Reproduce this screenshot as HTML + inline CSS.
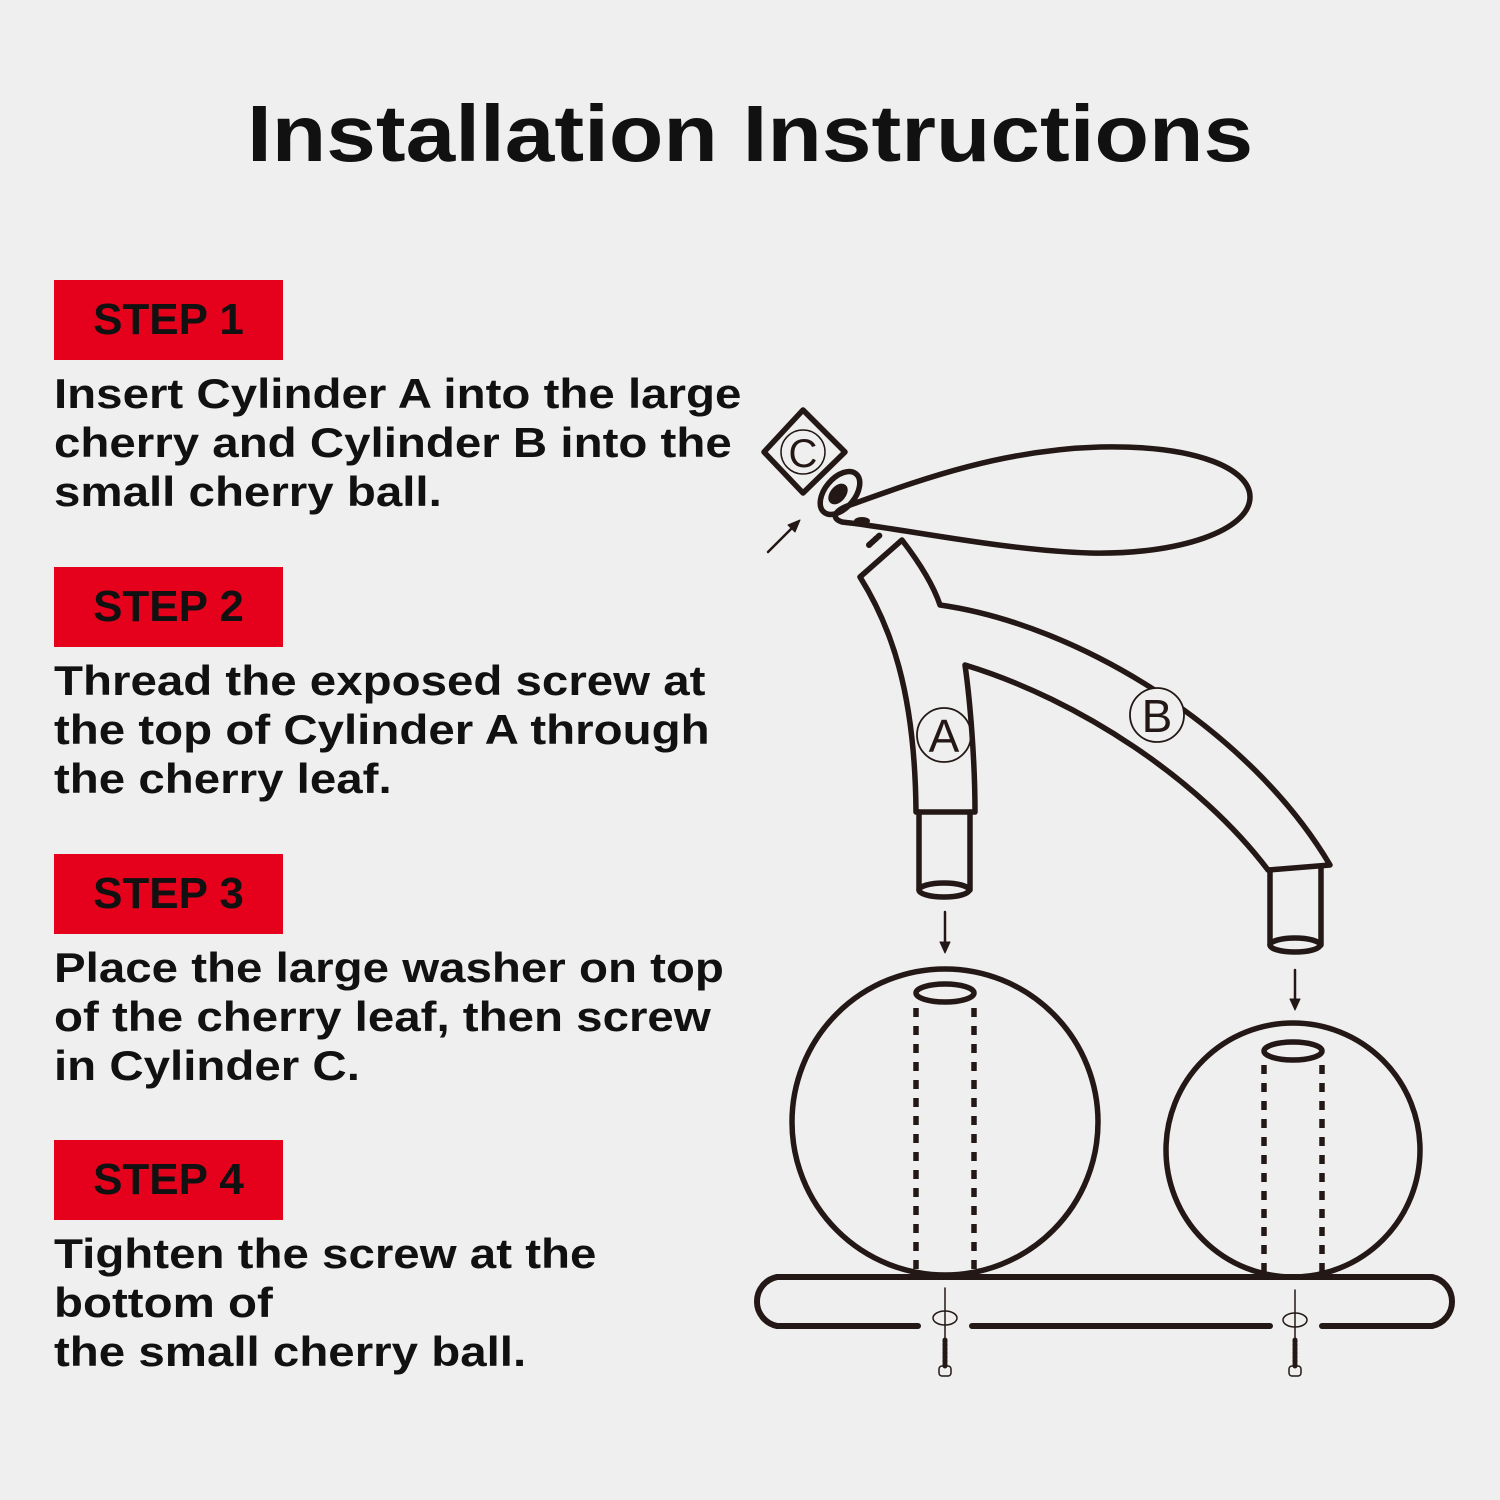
<!DOCTYPE html>
<html><head><meta charset="utf-8"><style>
html,body{margin:0;padding:0;background:#efefef;}
body{width:1500px;height:1500px;position:relative;overflow:hidden;font-family:"Liberation Sans",sans-serif;}
h1{position:absolute;left:247px;top:88px;margin:0;font-size:80px;font-weight:bold;color:#111;white-space:nowrap;transform:scaleX(1.115);transform-origin:0 0;}
.box{position:absolute;left:54px;width:229px;height:80px;background:#e5001c;color:#111;font-weight:bold;font-size:44px;line-height:80px;text-align:center;}
.t{position:absolute;left:54px;font-weight:bold;font-size:42px;line-height:49px;color:#111;white-space:nowrap;transform:scaleX(1.13);transform-origin:0 0;}
svg{position:absolute;left:0;top:0;}
</style></head><body>
<h1>Installation Instructions</h1>
<div class="box" style="top:280px">STEP 1</div>
<div class="t" style="top:369px">Insert Cylinder A into the large<br>cherry and Cylinder B into the<br>small cherry ball.</div>
<div class="box" style="top:567px">STEP 2</div>
<div class="t" style="top:656px">Thread the exposed screw at<br>the top of Cylinder A through<br>the cherry leaf.</div>
<div class="box" style="top:854px">STEP 3</div>
<div class="t" style="top:943px">Place the large washer on top<br>of the cherry leaf, then screw<br>in Cylinder C.</div>
<div class="box" style="top:1140px">STEP 4</div>
<div class="t" style="top:1229px">Tighten the screw at the<br>bottom of<br>the small cherry ball.</div>
<svg width="1500" height="1500" viewBox="0 0 1500 1500" fill="none" stroke="#231815" stroke-width="5.5" stroke-linecap="round" stroke-linejoin="round">
<path d="M842,522 C830,518 835,510 850,505 C920,480 1000,450 1100,447 C1200,445 1250,470 1250,497 C1250,530 1180,555 1090,553 C1000,550 900,528 842,522 Z"/>
<ellipse cx="840" cy="493" rx="15" ry="25" transform="rotate(40 840 493)"/>
<ellipse cx="838" cy="494" rx="5" ry="9" transform="rotate(40 838 494)" fill="#231815"/>
<ellipse cx="862" cy="521" rx="8" ry="4" fill="#231815" stroke="none"/>
<path d="M803,410 L845,452 L803,493 L764,452 Z"/>
<circle cx="803" cy="452" r="22" stroke-width="1.5"/>
<text x="803" y="467" font-family="Liberation Sans" font-size="40" fill="#231815" stroke="none" text-anchor="middle">C</text>
<path d="M768,552 L798,522" stroke-width="2.5"/>
<path d="M800,520 L788,525 L795,532 Z" fill="#231815" stroke-width="1"/>
<path d="M869,545 L880,535" stroke-width="6" stroke-dasharray="2 2"/>
<path d="M902,540 L860,577 C890,625 915,690 916,812 L975,812 C975,760 970,700 965,665 C1080,700 1200,780 1268,870 L1330,865 C1250,730 1080,625 940,605 C935,590 925,570 902,540 Z"/>
<circle cx="944" cy="735" r="27" stroke-width="1.8"/>
<text x="944" y="752" font-family="Liberation Sans" font-size="46" fill="#231815" stroke="none" text-anchor="middle">A</text>
<circle cx="1157" cy="715" r="27" stroke-width="1.8" fill="#efefef"/>
<text x="1157" y="732" font-family="Liberation Sans" font-size="46" fill="#231815" stroke="none" text-anchor="middle">B</text>
<path d="M919,812 L919,890 M970,812 L970,890"/>
<ellipse cx="944" cy="890" rx="25" ry="7"/>
<path d="M1270,872 L1270,945 M1321,868 L1321,945"/>
<ellipse cx="1295" cy="945" rx="25" ry="7"/>
<path d="M945,912 L945,945 M1295,970 L1295,1002" stroke-width="2.5"/>
<path d="M940,942 L950,942 L945,953 Z M1290,999 L1300,999 L1295,1010 Z" fill="#231815" stroke-width="1"/>
<circle cx="945" cy="1122" r="153"/>
<circle cx="1293" cy="1150" r="127"/>
<ellipse cx="945" cy="993" rx="29" ry="9"/>
<ellipse cx="1293" cy="1051" rx="29" ry="9"/>
<path d="M916,1008 L916,1270 M974,1008 L974,1270 M1264,1065 L1264,1272 M1322,1065 L1322,1272" stroke-dasharray="9 9" stroke-linecap="butt"/>
<path d="M918,1326 L777,1326 A25,25 0 0 1 777,1277 L1432,1277 A25,25 0 0 1 1432,1326 L1322,1326 M1270,1326 L972,1326" stroke-width="6"/>
<g stroke-width="1.5">
<path d="M945,1288 L945,1345 M1295,1290 L1295,1345"/>
<ellipse cx="945" cy="1318" rx="12" ry="7"/>
<ellipse cx="1295" cy="1320" rx="12" ry="7"/>
<path d="M945,1340 L945,1367 M1295,1340 L1295,1367" stroke-width="5" stroke-dasharray="2 2"/>
<rect x="939" y="1366" width="12" height="10" rx="3"/>
<rect x="1289" y="1366" width="12" height="10" rx="3"/>
</g>
</svg>
</body></html>
